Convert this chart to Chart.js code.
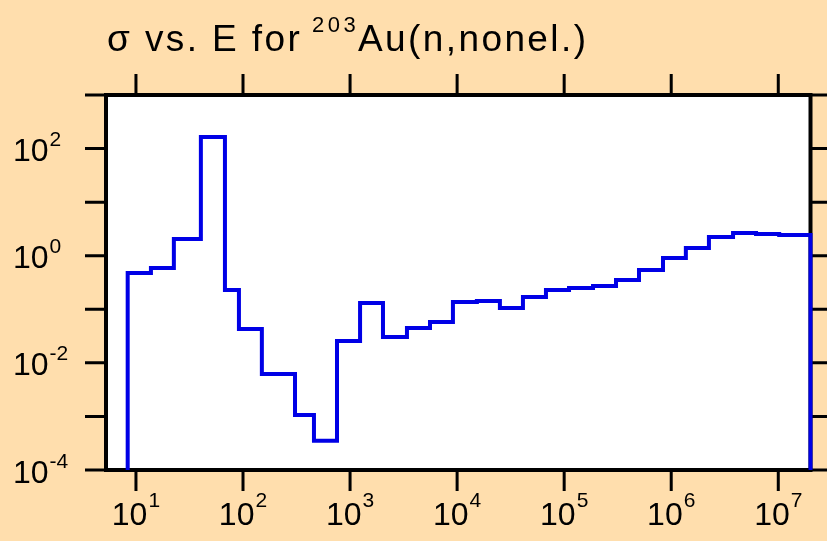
<!DOCTYPE html>
<html>
<head>
    <title>sigma vs E</title>
    <script src="https://cdn.jsdelivr.net/npm/chart.js"></script>
    <style>
        body { margin: 0; background: #ffdead; }
        #xsChart { display: block; }
    </style>
</head>
<body>
    <canvas id="xsChart" width="827" height="541"></canvas>
    <script>
        // bin edges (eV) and cross section per bin (b)
        const binEdges = [8.37, 13.8, 22.6, 40.4, 67.8, 91.6, 150, 306, 460, 755,
            1240, 2030, 3400, 5580, 9140, 15300, 25100, 41200, 67600, 111000,
            186000, 305000, 500000, 838000, 1.37e6, 2.25e6, 3.78e6, 6.2e6, 1.02e7, 2e7];
        const sigma = [0.475, 0.589, 2.05, 164, 0.229, 0.0428, 0.0062, 0.00106, 0.00035, 0.0256,
            0.131, 0.0304, 0.0447, 0.0578, 0.137, 0.143, 0.106, 0.170, 0.229, 0.249,
            0.272, 0.352, 0.541, 0.906, 1.39, 2.23, 2.65, 2.54, 2.43];

        // axis decades
        const xTickExps = [1, 2, 3, 4, 5, 6, 7];
        const yTickExps = [-4, -3, -2, -1, 0, 1, 2, 3];
        const yLabelExps = [2, 0, -2, -4];

        const xMin = 5.25, xMax = 2e7;
        const yMin = 1e-4, yMax = 1e3;

        // histogram outline: up from the floor, step across each bin, back down
        const points = [{ x: binEdges[0], y: yMin }];
        sigma.forEach((v, i) => points.push({ x: binEdges[i], y: v }));
        points.push({ x: binEdges[binEdges.length - 1], y: sigma[sigma.length - 1] });
        points.push({ x: binEdges[binEdges.length - 1], y: yMin });

        const FONT = '"Liberation Sans", Arial, Helvetica, sans-serif';

        function powerLabel(ctx, x, baseY, expY, exp, centered) {
            ctx.font = '32px ' + FONT;
            const wBase = ctx.measureText('10').width + 1;
            ctx.font = '21px ' + FONT;
            const wExp = ctx.measureText(String(exp)).width;
            const x0 = centered ? x - (wBase + wExp) / 2 : x;
            ctx.textAlign = 'left';
            ctx.textBaseline = 'alphabetic';
            ctx.font = '32px ' + FONT;
            ctx.fillText('10', x0, baseY);
            ctx.font = '21px ' + FONT;
            ctx.fillText(String(exp), x0 + wBase, expY);
        }

        const framePlugin = {
            id: 'framePlugin',
            beforeDatasetsDraw(chart) {
                const { ctx, chartArea: a } = chart;
                const xs = chart.scales.x, ys = chart.scales.y;
                const tick = 21;
                ctx.save();
                ctx.fillStyle = '#ffdead';
                ctx.fillRect(0, 0, chart.width, chart.height);
                ctx.fillStyle = '#ffffff';
                ctx.fillRect(a.left, a.top, a.right - a.left, a.bottom - a.top);

                // tick marks outside the box on all four sides
                ctx.strokeStyle = '#000';
                ctx.lineWidth = 3;
                ctx.beginPath();
                xTickExps.forEach(e => {
                    const px = xs.getPixelForValue(Math.pow(10, e));
                    ctx.moveTo(px, a.bottom); ctx.lineTo(px, a.bottom + tick);
                    ctx.moveTo(px, a.top); ctx.lineTo(px, a.top - tick);
                });
                yTickExps.forEach(e => {
                    const py = ys.getPixelForValue(Math.pow(10, e));
                    ctx.moveTo(a.left, py); ctx.lineTo(a.left - tick, py);
                    ctx.moveTo(a.right, py); ctx.lineTo(a.right + tick, py);
                });
                ctx.stroke();

                ctx.lineWidth = 4;
                ctx.strokeRect(a.left, a.top, a.right - a.left, a.bottom - a.top);

                // labels
                ctx.fillStyle = '#000';
                xTickExps.forEach(e => {
                    const px = xs.getPixelForValue(Math.pow(10, e));
                    powerLabel(ctx, px, a.bottom + 55, a.bottom + 37, e, true);
                });
                yLabelExps.forEach(e => {
                    const py = ys.getPixelForValue(Math.pow(10, e));
                    powerLabel(ctx, 13, py + 12.5, py - 2.5, e, false);
                });

                // title, loosely spaced, with superscript mass number
                ctx.textAlign = 'left';
                ctx.letterSpacing = '2.4px';
                ctx.font = '37px ' + FONT;
                ctx.fillText('\u03c3 vs. E for', 107, 51);
                ctx.letterSpacing = '3.5px';
                ctx.font = '22px ' + FONT;
                ctx.fillText('203', 312, 32);
                ctx.letterSpacing = '2.4px';
                ctx.font = '37px ' + FONT;
                ctx.fillText('Au(n,nonel.)', 358, 51);
                ctx.letterSpacing = '0px';
                ctx.restore();
            }
        };

        new Chart(document.getElementById('xsChart').getContext('2d'), {
            type: 'line',
            data: {
                datasets: [{
                    data: points,
                    stepped: true,
                    borderColor: '#0000e6',
                    borderWidth: 4,
                    borderJoinStyle: 'miter',
                    pointRadius: 0,
                    fill: false,
                    clip: false
                }]
            },
            options: {
                responsive: false,
                animation: false,
                layout: { padding: { left: 106, right: 16.5, top: 95, bottom: 71 } },
                plugins: { legend: { display: false }, tooltip: { enabled: false } },
                scales: {
                    x: { type: 'logarithmic', min: xMin, max: xMax, display: false },
                    y: { type: 'logarithmic', min: yMin, max: yMax, display: false }
                }
            },
            plugins: [framePlugin]
        });
    </script>
</body>
</html>
